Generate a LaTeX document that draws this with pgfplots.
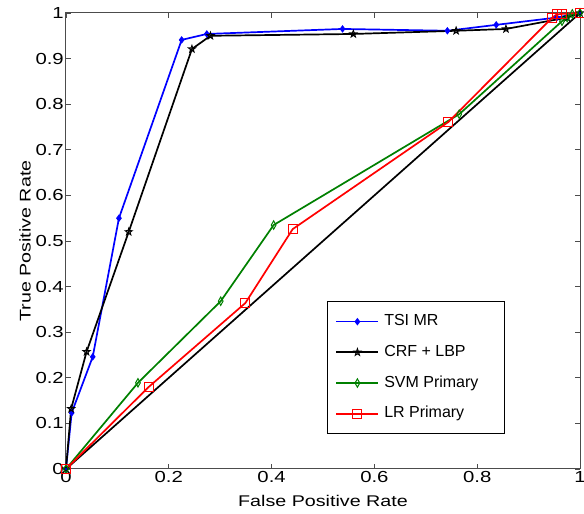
\documentclass[border=0pt]{standalone}
\usepackage{fontspec}
\setmainfont{Liberation Sans}[FakeStretch=1.27]
\newfontfamily\legfont{Liberation Sans}
\usepackage{pgfplots}
\pgfplotsset{compat=1.18}

\definecolor{mblue}{rgb}{0,0,1}
\definecolor{mgreen}{rgb}{0,0.5,0}
\definecolor{mred}{rgb}{1,0,0}

% MATLAB-like pentagram outline
\pgfdeclareplotmark{pent}{%
  \pgfpathmoveto{\pgfpointpolar{90}{\pgfplotmarksize}}%
  \pgfpathlineto{\pgfpointpolar{126}{0.4\pgfplotmarksize}}%
  \pgfpathlineto{\pgfpointpolar{162}{\pgfplotmarksize}}%
  \pgfpathlineto{\pgfpointpolar{198}{0.4\pgfplotmarksize}}%
  \pgfpathlineto{\pgfpointpolar{234}{\pgfplotmarksize}}%
  \pgfpathlineto{\pgfpointpolar{270}{0.4\pgfplotmarksize}}%
  \pgfpathlineto{\pgfpointpolar{306}{\pgfplotmarksize}}%
  \pgfpathlineto{\pgfpointpolar{342}{0.4\pgfplotmarksize}}%
  \pgfpathlineto{\pgfpointpolar{18}{\pgfplotmarksize}}%
  \pgfpathlineto{\pgfpointpolar{54}{0.4\pgfplotmarksize}}%
  \pgfpathclose\pgfusepathqstroke}

\begin{document}
\begin{tikzpicture}
\begin{axis}[
  scale only axis, width=514pt, height=456pt,
  xmin=0, xmax=1, ymin=0, ymax=1,
  xtick={0,0.2,0.4,0.6,0.8,1}, ytick={0,0.1,...,1},
  /pgf/number format/assume math mode=true,
  tick align=inside, major tick length=5pt,
  axis line style={gray!60!black, line width=1pt},
  tick style={gray!60!black, line width=0.9pt},
  tick label style={font=\fontsize{16}{16}\selectfont},
  xticklabel style={inner ysep=2pt},
  yticklabel style={inner xsep=2pt},
  label style={font=\fontsize{15.5}{16}\selectfont},
  xlabel={False Positive Rate}, ylabel={True Positive Rate},
  xlabel style={at={(axis description cs:0.5,-0.0702)}, anchor=center},
  ylabel style={at={(axis description cs:-0.0798,0.5)}, anchor=center},
  clip=false,
  legend cell align=left,
  legend image code/.code={%
    \draw[line width=1.7pt, mark repeat=2, mark phase=2]
      plot coordinates {(0pt,0pt)(21pt,0pt)(42pt,0pt)};
    \path (47pt,0pt);},
  legend style={at={(0.508,0.368)}, anchor=north west, draw=black,
    line width=0.9pt,
    font=\legfont\fontsize{16}{16}\selectfont,
    inner xsep=8pt, inner ysep=12pt, row sep=14.7pt,
    nodes={inner sep=0pt, text height=12pt, text depth=4pt}},
]
\addplot[black, line width=1.7pt, forget plot] coordinates {(0,0)(1,1)};

\addplot[mblue, line width=1.7pt, mark=diamond*, mark size=3pt,
  mark options={line width=1pt}] coordinates
  {(0,0)(0.011,0.123)(0.052,0.246)(0.103,0.55)(0.225,0.941)(0.274,0.954)
   (0.538,0.965)(0.742,0.961)(0.837,0.974)(0.955,0.99)(1,1)};
\addlegendentry{\makebox[112pt][l]{TSI MR}}

\addplot[black, line width=1.7pt, mark=pent, mark size=3.6pt,
  mark options={line width=1pt}] coordinates
  {(0,0)(0.01,0.132)(0.04,0.257)(0.122,0.52)(0.245,0.921)(0.281,0.95)
   (0.559,0.954)(0.759,0.961)(0.856,0.965)(0.975,0.99)(1,1)};
\addlegendentry{CRF + LBP}

\addplot[mgreen, line width=1.7pt, mark=diamond, mark size=4.2pt,
  mark options={xscale=0.75, line width=1pt}] coordinates
  {(0,0)(0.14,0.189)(0.301,0.368)(0.404,0.535)(0.765,0.778)
   (0.965,0.982)(0.975,0.99)(0.985,0.998)(1,1)};
\addlegendentry{SVM Primary}

\addplot[mred, line width=1.7pt, mark=square, mark size=4.5pt,
  mark options={line width=1pt}] coordinates
  {(0,0)(0.161,0.18)(0.349,0.364)(0.441,0.526)(0.744,0.761)
   (0.946,0.99)(0.955,0.997)(0.965,0.998)(1,1)};
\addlegendentry{LR Primary}

\coordinate (bl) at (rel axis cs:-0.1284,-0.0987);
\coordinate (tr) at (rel axis cs:1.0078,1.0285);
\end{axis}
\pgfresetboundingbox
\path[use as bounding box] (bl) rectangle (tr);
\end{tikzpicture}
\end{document}
